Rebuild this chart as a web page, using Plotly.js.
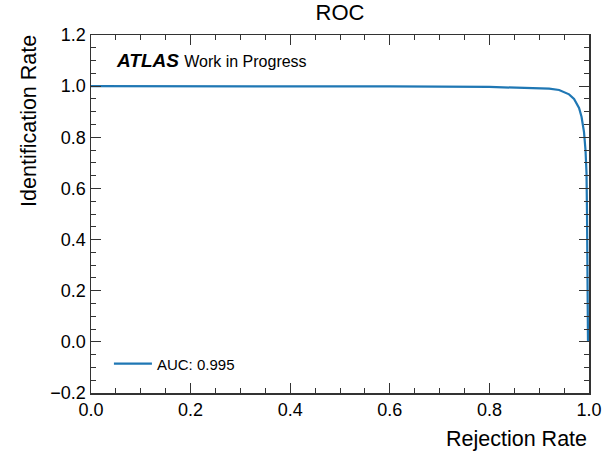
<!DOCTYPE html>
<html><head><meta charset="utf-8">
<script src="https://cdn.plot.ly/plotly-3.0.1.min.js"></script>
<style>body{margin:0;padding:0;background:#fff}#chart{width:613px;height:452px}</style>
</head><body><div id="chart"></div>
<script>
// ROC curve values
var rejectionRate = [0, 0.2, 0.4, 0.6, 0.8, 0.88, 0.92, 0.94, 0.96, 0.97, 0.98, 0.985, 0.99, 0.993, 0.995, 0.996, 0.997, 0.998];
var identificationRate = [1.0, 1.0, 1.0, 0.999, 0.997, 0.994, 0.99, 0.985, 0.968, 0.95, 0.915, 0.88, 0.82, 0.75, 0.66, 0.5, 0.25, 0.0];
var seriesName = "AUC: 0.995";
var titleText = "ROC";
var xLabel = "Rejection Rate";
var yLabel = "Identification Rate";
var tagText = "<b><i>ATLAS</i></b> <span style='font-size:16px'>Work in Progress</span>";

var fontFam = "Liberation Sans, Arial, sans-serif";
var axisCommon = {
  showgrid: false, zeroline: false, showline: true, linecolor: "#333", linewidth: 1.5,
  mirror: "allticks", ticks: "inside", ticklen: 10, tickwidth: 1.2, tickcolor: "#333",
  tickfont: {family: fontFam, size: 18, color: "#000"},
  minor: {dtick: 0.05, ticks: "inside", ticklen: 5, tickwidth: 1, tickcolor: "#333"}
};
var layout = {
  width: 613, height: 452,
  margin: {l: 91, r: 24, t: 35, b: 59},
  paper_bgcolor: "#fff", plot_bgcolor: "#fff",
  font: {family: fontFam, color: "#000"},
  title: {text: titleText, font: {family: fontFam, size: 22, color: "#000"}, x: 0.5, xanchor: "center", xref: "paper", y: 0.972, yanchor: "middle"},
  xaxis: Object.assign({}, axisCommon, {range: [0, 1], dtick: 0.2, tick0: 0, tickformat: ".1f"}),
  yaxis: Object.assign({}, axisCommon, {range: [-0.2, 1.2], dtick: 0.2, tick0: 0, tickformat: ".1f"}),
  showlegend: true,
  legend: {x: 0.036, y: 0.035, xanchor: "left", yanchor: "bottom", itemwidth: 38, bgcolor: "rgba(0,0,0,0)", font: {family: fontFam, size: 15, color: "#000"}},
  annotations: [
    {text: xLabel, xref: "paper", yref: "paper", x: 1, y: -0.09, xanchor: "right", yanchor: "top", showarrow: false, font: {family: fontFam, size: 21.5, color: "#000"}},
    {text: yLabel, xref: "paper", yref: "paper", x: -0.095, y: 1.005, xanchor: "right", yanchor: "top", textangle: -90, showarrow: false, font: {family: fontFam, size: 21.5, color: "#000"}},
    {text: tagText, xref: "paper", yref: "paper", x: 0.047, y: 0.93, xanchor: "left", yanchor: "middle", showarrow: false, font: {family: fontFam, size: 19, color: "#000"}}
  ]
};
var traces = [{
  x: rejectionRate, y: identificationRate, type: "scatter", mode: "lines", name: seriesName,
  line: {color: "#1f77b4", width: 2.2}
}];
Plotly.newPlot("chart", traces, layout, {displayModeBar: false, staticPlot: true});
</script></body></html>
